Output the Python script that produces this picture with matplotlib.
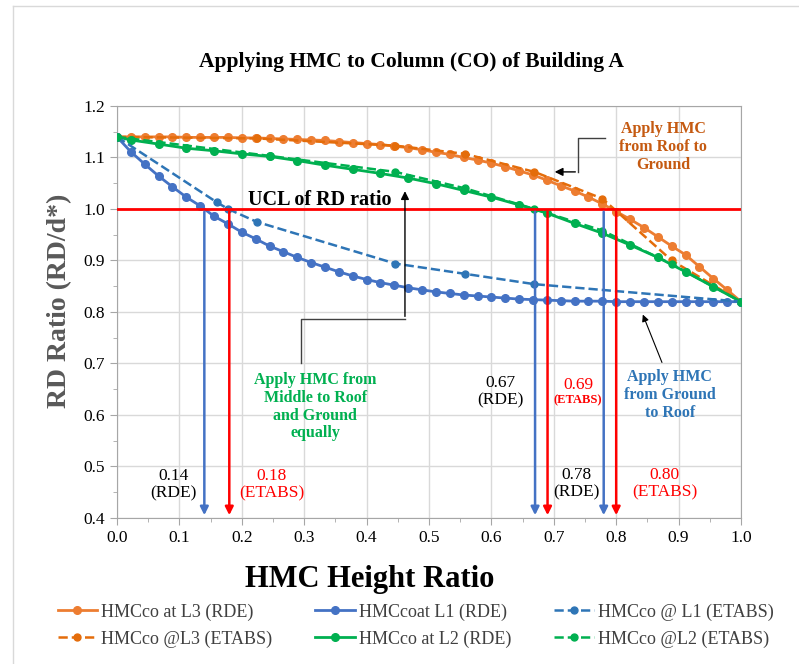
import numpy as np
import matplotlib
matplotlib.use("Agg")
import matplotlib.pyplot as plt

plt.rcParams['font.family'] = ['Liberation Serif', 'DejaVu Serif']

# storey positions for the RDE runs (45 storeys)
x_rde = [k / 45 for k in range(46)]

l3_rde = [1.140, 1.140, 1.140, 1.140, 1.140, 1.139, 1.139, 1.139, 1.139, 1.138,
          1.138, 1.137, 1.136, 1.135, 1.134, 1.133, 1.131, 1.129, 1.127, 1.125,
          1.122, 1.119, 1.115, 1.110, 1.106, 1.100, 1.095, 1.089, 1.082, 1.074,
          1.066, 1.056, 1.045, 1.035, 1.023, 1.010, 0.995, 0.980, 0.964, 0.946,
          0.928, 0.911, 0.888, 0.865, 0.843, 0.820]

l1_rde = [1.140, 1.111, 1.087, 1.064, 1.043, 1.023, 1.006, 0.986, 0.971, 0.955,
          0.942, 0.928, 0.917, 0.906, 0.896, 0.887, 0.878, 0.870, 0.863, 0.857,
          0.852, 0.847, 0.843, 0.839, 0.836, 0.833, 0.831, 0.829, 0.827, 0.825,
          0.824, 0.823, 0.822, 0.821, 0.821, 0.821, 0.820, 0.820, 0.820, 0.820,
          0.820, 0.820, 0.820, 0.820, 0.820, 0.820]

x_l2_rde = [0] + [k / 45 for k in range(1, 46, 2)]
l2_rde = [1.140, 1.134, 1.126, 1.118, 1.113, 1.107, 1.102, 1.094, 1.085, 1.077,
          1.069, 1.060, 1.049, 1.036, 1.023, 1.008, 0.992, 0.972, 0.953, 0.930,
          0.906, 0.878, 0.849, 0.820]

# ETABS runs
x_l1_etabs = [0.0, 0.160, 0.178, 0.224, 0.446, 0.558, 0.669, 1.0]
l1_etabs = [1.140, 1.013, 1.000, 0.975, 0.894, 0.874, 0.854, 0.820]

x_l3_etabs = [0.0, 0.224, 0.446, 0.558, 0.669, 0.778, 0.889, 1.0]
l3_etabs = [1.140, 1.137, 1.123, 1.107, 1.072, 1.020, 0.900, 0.820]

x_l2_etabs = [0.0, 0.245, 0.446, 0.558, 0.669, 0.778, 0.889, 1.0]
l2_etabs = [1.140, 1.103, 1.072, 1.040, 1.000, 0.958, 0.893, 0.820]

ucl = 1.0
rde_cross = [0.14, 0.67, 0.78]
etabs_cross = [0.18, 0.69, 0.80]

c_or = '#ED7D31'
c_or2 = '#E46C0A'
c_bl = '#4472C4'
c_bl2 = '#2E75B6'
c_gr = '#00B050'

fig = plt.figure(figsize=(7.99, 6.64), dpi=100)
ax = fig.add_axes([0.1464, 0.2199, 0.7810, 0.6205])

# outer chart border
fig.add_artist(plt.Line2D([13 / 799, 13 / 799], [0, 1 - 6 / 664], color='#d9d9d9', lw=1))
fig.add_artist(plt.Line2D([13 / 799, 1], [1 - 6 / 664, 1 - 6 / 664], color='#d9d9d9', lw=1))

ax.plot(x_rde, l3_rde, '-o', color=c_or, lw=2, ms=5.5, label='HMCco at L3 (RDE)', zorder=4)
ax.plot(x_l3_etabs, l3_etabs, '--o', color=c_or2, lw=1.8, ms=5, label='HMCco @L3 (ETABS)', zorder=4)
ax.plot(x_rde, l1_rde, '-o', color=c_bl, lw=2, ms=5.5, label='HMCcoat L1 (RDE)', zorder=4)
ax.plot(x_l2_rde, l2_rde, '-o', color=c_gr, lw=2, ms=5.5, label='HMCco at L2 (RDE)', zorder=4)
ax.plot(x_l1_etabs, l1_etabs, '--o', color=c_bl2, lw=1.8, ms=5, label='HMCco @ L1 (ETABS)', zorder=4)
ax.plot(x_l2_etabs, l2_etabs, '--o', color=c_gr, lw=1.8, ms=5, label='HMCco @L2 (ETABS)', zorder=4)

ax.plot([0, 1], [ucl, ucl], color='red', lw=2, zorder=5)

for xv in rde_cross:
    ax.annotate('', xy=(xv, 0.4), xytext=(xv, ucl),
                arrowprops=dict(arrowstyle='-|>', color=c_bl, lw=1.8, mutation_scale=12), zorder=5)
for xv in etabs_cross:
    ax.annotate('', xy=(xv, 0.4), xytext=(xv, ucl),
                arrowprops=dict(arrowstyle='-|>', color='red', lw=1.8, mutation_scale=12), zorder=5)

ax.set_xlim(0, 1)
ax.set_ylim(0.4, 1.2)
ax.set_xticks(np.arange(0, 1.01, 0.1))
ax.set_yticks(np.arange(0.4, 1.21, 0.1))
ax.set_xticks(np.arange(0, 1.01, 0.05), minor=True)
ax.set_yticks(np.arange(0.4, 1.21, 0.05), minor=True)
ax.xaxis.set_major_formatter(matplotlib.ticker.FormatStrFormatter('%.1f'))
ax.yaxis.set_major_formatter(matplotlib.ticker.FormatStrFormatter('%.1f'))
ax.tick_params(axis='both', which='major', labelsize=12.5, length=5, color='#a6a6a6', direction='out')
ax.tick_params(axis='both', which='minor', length=3, color='#a6a6a6', direction='out')
ax.grid(True, which='major', color='#d9d9d9', lw=1)
ax.set_axisbelow(True)
for s in ax.spines.values():
    s.set_color('#a6a6a6')

fig.text(370 / 799, 1 - 580 / 664, 'HMC Height Ratio', fontsize=22, fontweight='bold',
         ha='center', va='center')
fig.text(60 / 799, 1 - 301 / 664, 'RD Ratio (RD/d*)', fontsize=20, fontweight='bold',
         color='#595959', rotation=90, ha='center', va='center')
fig.text(411 / 799, 1 - 62 / 664, 'Applying HMC to Column (CO) of Building A',
         ha='center', va='center', fontsize=15.5, fontweight='bold')

# annotations
ax.text(0.325, 1.017, 'UCL of RD ratio', fontsize=14.5, fontweight='bold', ha='center', va='center', zorder=6)

ax.text(0.875, 1.12, 'Apply HMC\nfrom Roof to\nGround', color='#C55A11', fontsize=11.5,
        fontweight='bold', ha='center', va='center', linespacing=1.15)
ax.plot([0.782, 0.739, 0.739], [1.137, 1.137, 1.072], color='#404040', lw=1, zorder=6)
ax.annotate('', xy=(0.697, 1.072), xytext=(0.739, 1.072),
            arrowprops=dict(arrowstyle='-|>', color='black', lw=1, mutation_scale=12), zorder=6)

ax.text(0.318, 0.616, 'Apply HMC from\nMiddle to Roof\nand Ground\nequally', color=c_gr, fontsize=11.5,
        fontweight='bold', ha='center', va='center', linespacing=1.15)
ax.plot([0.295, 0.295, 0.4615], [0.70, 0.786, 0.786], color='#404040', lw=1, zorder=6)
ax.annotate('', xy=(0.4615, 1.04), xytext=(0.4615, 0.786),
            arrowprops=dict(arrowstyle='-|>', color='black', lw=1, mutation_scale=12), zorder=6)

ax.text(0.886, 0.639, 'Apply HMC\nfrom Ground\nto Roof', color=c_bl2, fontsize=11.5,
        fontweight='bold', ha='center', va='center', linespacing=1.15)
ax.annotate('', xy=(0.841, 0.80), xytext=(0.875, 0.697),
            arrowprops=dict(arrowstyle='-|>', color='black', lw=0.8, mutation_scale=10), zorder=6)

ax.text(0.09, 0.464, '0.14\n(RDE)', fontsize=12.5, ha='center', va='center', linespacing=1.1)
ax.text(0.248, 0.464, '0.18\n(ETABS)', fontsize=12.5, color='red', ha='center', va='center', linespacing=1.1)
ax.text(0.614, 0.645, '0.67\n(RDE)', fontsize=12.5, ha='center', va='center', linespacing=1.1)
ax.text(0.739, 0.658, '0.69', fontsize=12.5, color='red', ha='center', va='center')
ax.text(0.739, 0.628, '(ETABS)', fontsize=9, fontweight='bold', color='red', ha='center', va='center')
ax.text(0.737, 0.467, '0.78\n(RDE)', fontsize=12.5, ha='center', va='center', linespacing=1.1)
ax.text(0.878, 0.467, '0.80\n(ETABS)', fontsize=12.5, color='red', ha='center', va='center', linespacing=1.1)

handles, labels = ax.get_legend_handles_labels()
leg = fig.legend(handles, labels, loc='lower center', bbox_to_anchor=(0.52, 0.0), ncol=3,
                 frameon=False, fontsize=13, handlelength=2.2, columnspacing=2.4,
                 labelspacing=0.55, handletextpad=0.2)
for t in leg.get_texts():
    t.set_color('#404040')

fig.savefig('out.png', dpi=100)
